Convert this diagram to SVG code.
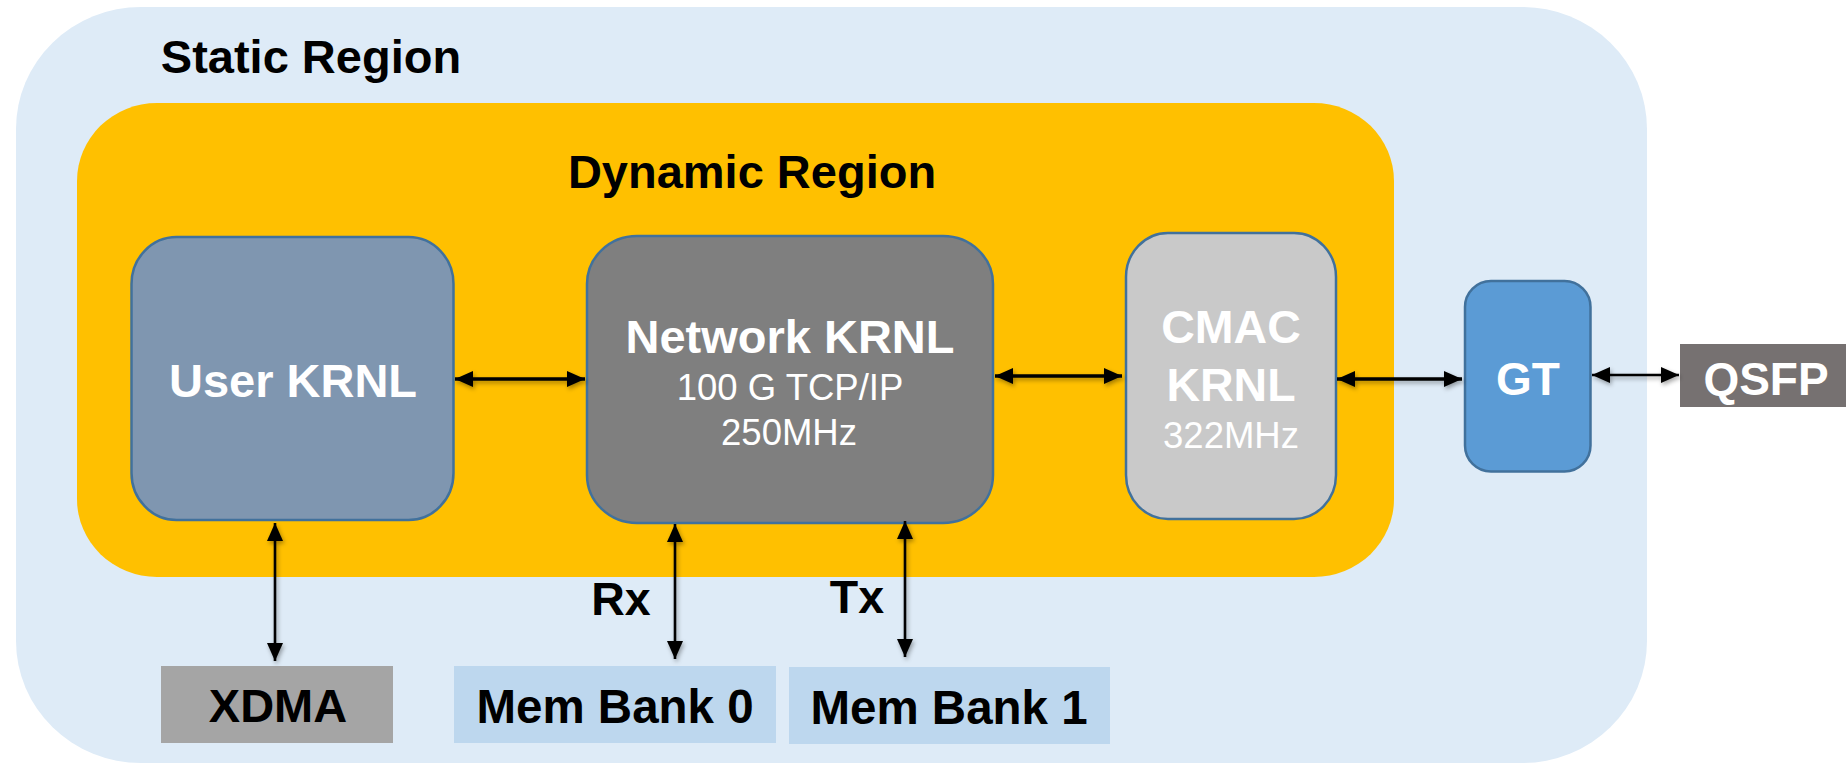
<svg xmlns="http://www.w3.org/2000/svg" width="1846" height="764" viewBox="0 0 1846 764">
  <defs>
    <style>
      .lbl { font-family: "Liberation Sans", Arial, sans-serif; font-weight: bold; text-anchor: middle; }
      .sub { font-family: "Liberation Sans", Arial, sans-serif; font-weight: normal; text-anchor: middle; fill: #ffffff; }
      .white { fill: #ffffff; }
      .black { fill: #000000; }
      .krnl { stroke: #41719C; stroke-width: 2.5; }
      .link { stroke: #000000; fill: none; marker-start: url(#head); marker-end: url(#head); }
      .thick { stroke-width: 3.5; }
      .thin { stroke-width: 2.6; }
    </style>
    <marker id="head" viewBox="0 0 18 16" refX="18" refY="8" markerWidth="18" markerHeight="16" markerUnits="userSpaceOnUse" orient="auto-start-reverse">
      <path d="M0,0 L18,8 L0,16 Z" fill="#000000"/>
    </marker>
    <!-- soft shadow under the connectors; user-space region so straight lines keep a box -->
    <filter id="shadow" filterUnits="userSpaceOnUse" x="0" y="0" width="1846" height="764">
      <feDropShadow dx="1.5" dy="2.5" stdDeviation="2" flood-color="#000000" flood-opacity="0.35"/>
    </filter>
  </defs>

  <!-- regions -->
  <g id="static-region">
    <rect x="16" y="7" width="1631" height="756" rx="125" ry="122" fill="#DEEBF7"/>
    <text class="lbl black" x="311" y="73" font-size="47">Static Region</text>
  </g>
  <g id="dynamic-region">
    <rect x="77" y="103" width="1317" height="474" rx="80" ry="78" fill="#FFC000"/>
    <text class="lbl black" x="752" y="188" font-size="47">Dynamic Region</text>
  </g>

  <!-- kernels -->
  <g id="user-krnl">
    <rect class="krnl" x="131.5" y="237" width="322" height="283" rx="45" ry="47" fill="#7F96B0"/>
    <text class="lbl white" x="293" y="397" font-size="47">User KRNL</text>
  </g>
  <g id="network-krnl">
    <rect class="krnl" x="587" y="236" width="406" height="287" rx="50" ry="48" fill="#7F7F7F"/>
    <text class="lbl white" x="790" y="353" font-size="47">Network KRNL</text>
    <text class="sub" x="790" y="400" font-size="36.5">100 G TCP/IP</text>
    <text class="sub" x="789" y="445" font-size="36.5">250MHz</text>
  </g>
  <g id="cmac-krnl">
    <rect class="krnl" x="1126" y="233" width="210" height="286" rx="42" ry="44" fill="#C9C9C9"/>
    <text class="lbl white" x="1231" y="343" font-size="46.5">CMAC</text>
    <text class="lbl white" x="1231" y="401" font-size="46.5">KRNL</text>
    <text class="sub" x="1231" y="448" font-size="36.5">322MHz</text>
  </g>
  <g id="gt">
    <rect class="krnl" x="1465" y="281" width="125.5" height="190.5" rx="26" ry="26" fill="#5B9BD5"/>
    <text class="lbl white" x="1528" y="395" font-size="46">GT</text>
  </g>

  <!-- external blocks -->
  <g id="qsfp">
    <rect x="1680" y="344" width="166" height="63" fill="#767171"/>
    <text class="lbl white" x="1766" y="395" font-size="46">QSFP</text>
  </g>
  <g id="xdma">
    <rect x="161" y="666" width="232" height="77" fill="#A5A5A5"/>
    <text class="lbl black" x="278" y="722" font-size="47">XDMA</text>
  </g>
  <g id="mem-bank-0">
    <rect x="454" y="666" width="322" height="77" fill="#BDD7EE"/>
    <text class="lbl black" x="615" y="723" font-size="47.5">Mem Bank 0</text>
  </g>
  <g id="mem-bank-1">
    <rect x="789" y="667" width="321" height="77" fill="#BDD7EE"/>
    <text class="lbl black" x="949" y="724" font-size="47.5">Mem Bank 1</text>
  </g>

  <!-- connectors -->
  <g id="connectors" filter="url(#shadow)">
    <line class="link thick" x1="455" y1="379" x2="585" y2="379"/>
    <line class="link thick" x1="995" y1="376" x2="1122" y2="376"/>
    <line class="link thick" x1="1337" y1="379" x2="1462" y2="379"/>
    <line class="link thin" x1="1592" y1="375" x2="1679" y2="375"/>
    <line class="link thin" x1="275" y1="523" x2="275" y2="661"/>
    <line class="link thin" x1="675" y1="524" x2="675" y2="659"/>
    <line class="link thin" x1="905" y1="521" x2="905" y2="657"/>
  </g>

  <!-- connector labels -->
  <g id="link-labels">
    <text class="lbl black" x="621" y="615" font-size="46.5">Rx</text>
    <text class="lbl black" x="857" y="613" font-size="46.5">Tx</text>
  </g>
</svg>
